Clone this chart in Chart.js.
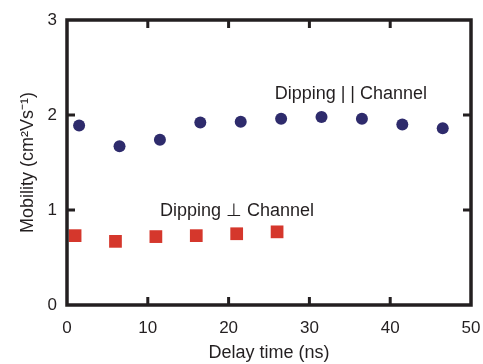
<!DOCTYPE html>
<html>
<head>
<meta charset="utf-8">
<script src="https://cdn.jsdelivr.net/npm/chart.js@4.4.1/dist/chart.umd.min.js"></script>
<style>
    html, body { margin: 0; padding: 0; background: #ffffff; }
    #wrap { width: 483px; height: 364px; }
</style>
</head>
<body>
<div id="wrap"><canvas id="mobilityChart" width="483" height="364"></canvas></div>
<script>
// delay time (ns) and mobility (cm2/Vs)
const parallelDelay = [1.5, 6.5, 11.5, 16.5, 21.5, 26.5, 31.5, 36.5, 41.5, 46.5];
const parallelMobility = [1.89, 1.67, 1.74, 1.92, 1.93, 1.96, 1.98, 1.96, 1.90, 1.86];

const perpDelay = [1, 6, 11, 16, 21, 26];
const perpMobility = [0.73, 0.67, 0.72, 0.73, 0.75, 0.77];

const xTicks = [0, 10, 20, 30, 40, 50];
const yTicks = [0, 1, 2, 3];

// text labels placed in data units
const notes = [
    { text: "Dipping | | Channel", x: 25.7, y: 2.17 },
    { text: "Dipping \u22A5 Channel", x: 11.5, y: 0.94 },
];

const ink = "#231f20";
const fontFamily = "'Liberation Sans', Arial, Helvetica, sans-serif";

function toPoints(xs, ys) {
    return xs.map((x, i) => ({ x: x, y: ys[i] }));
}

// frame with inward ticks, plus the two text labels
const framePlugin = {
    id: "frame",
    afterDraw(chart) {
        const ctx = chart.ctx;
        const area = chart.chartArea;
        const xs = chart.scales.x;
        const ys = chart.scales.y;
        const tickLen = 8;
        ctx.save();
        ctx.strokeStyle = ink;
        ctx.lineWidth = 3.5;
        ctx.lineCap = "butt";
        ctx.strokeRect(area.left, area.top, area.right - area.left, area.bottom - area.top);

        ctx.lineWidth = 3;
        ctx.beginPath();
        xTicks.slice(1, -1).forEach((v) => {
            const px = xs.getPixelForValue(v);
            ctx.moveTo(px, area.bottom);
            ctx.lineTo(px, area.bottom - tickLen);
            ctx.moveTo(px, area.top);
            ctx.lineTo(px, area.top + tickLen);
        });
        yTicks.slice(1, -1).forEach((v) => {
            const py = ys.getPixelForValue(v);
            ctx.moveTo(area.left, py);
            ctx.lineTo(area.left + tickLen, py);
            ctx.moveTo(area.right, py);
            ctx.lineTo(area.right - tickLen, py);
        });
        ctx.stroke();

        ctx.fillStyle = ink;
        ctx.font = "18px " + fontFamily;
        ctx.textAlign = "left";
        ctx.textBaseline = "alphabetic";
        notes.forEach((n) => {
            ctx.fillText(n.text, xs.getPixelForValue(n.x), ys.getPixelForValue(n.y));
        });
        ctx.restore();
    },
};

let mobilityChart;

function plotMobilityChart() {
    const ctx = document.getElementById("mobilityChart").getContext("2d");
    mobilityChart = new Chart(ctx, {
        type: "scatter",
        data: {
            datasets: [
                {
                    label: "Dipping || Channel",
                    data: toPoints(parallelDelay, parallelMobility),
                    pointStyle: "circle",
                    pointRadius: 6,
                    pointBorderWidth: 0,
                    backgroundColor: "#2e2b6c", // navy
                    borderColor: "#2e2b6c",
                },
                {
                    label: "Dipping \u22A5 Channel",
                    data: toPoints(perpDelay, perpMobility),
                    pointStyle: "rect",
                    pointRadius: 9,
                    pointBorderWidth: 0,
                    backgroundColor: "#d5372c", // red
                    borderColor: "#d5372c",
                },
            ],
        },
        options: {
            responsive: false,
            animation: false,
            layout: { padding: { left: 0, right: 12, top: 20, bottom: 0 } },
            plugins: {
                legend: { display: false },
                tooltip: { enabled: false },
            },
            scales: {
                x: {
                    type: "linear",
                    min: 0,
                    max: 50,
                    border: { display: false },
                    grid: { display: false, drawTicks: false },
                    afterBuildTicks: (scale) => {
                        scale.ticks = xTicks.map((v) => ({ value: v }));
                    },
                    afterFit: (scale) => {
                        scale.height = 59;
                        scale.paddingLeft = 0;
                        scale.paddingRight = 0;
                    },
                    ticks: {
                        color: ink,
                        padding: 13,
                        maxRotation: 0,
                        font: { family: fontFamily, size: 17 },
                    },
                    title: {
                        display: true,
                        text: "Delay time (ns)",
                        color: ink,
                        padding: { top: 0, bottom: 0 },
                        font: { family: fontFamily, size: 18 },
                    },
                },
                y: {
                    type: "linear",
                    min: 0,
                    max: 3,
                    border: { display: false },
                    grid: { display: false, drawTicks: false },
                    afterBuildTicks: (scale) => {
                        scale.ticks = yTicks.map((v) => ({ value: v }));
                    },
                    afterFit: (scale) => {
                        scale.width = 67;
                        scale.paddingTop = 0;
                        scale.paddingBottom = 0;
                    },
                    ticks: {
                        color: ink,
                        padding: 10,
                        font: { family: fontFamily, size: 17 },
                    },
                    title: {
                        display: true,
                        text: "Mobility (cm\u00B2Vs\u207B\u00B9)",
                        color: ink,
                        padding: { top: 17, bottom: 0 },
                        font: { family: fontFamily, size: 18 },
                    },
                },
            },
        },
        plugins: [framePlugin],
    });
}

plotMobilityChart();
</script>
</body>
</html>
